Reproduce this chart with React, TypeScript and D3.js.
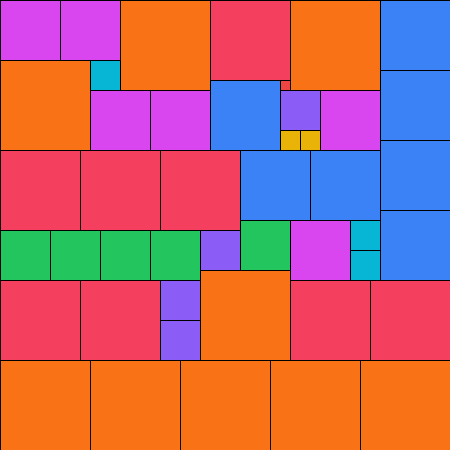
import React from "react";
import * as d3 from "d3";

// Partridge tiling: n squares of side n (n = 1..9) packed into a 45×45 square.
// Each square: side (grid units), column, row (grid units).
const sides = [
  9, 9, 9, 9, 9, 9, 9, 9, 9,
  8, 8, 8, 8, 8, 8, 8, 8,
  7, 7, 7, 7, 7, 7, 7,
  6, 6, 6, 6, 6, 6,
  5, 5, 5, 5, 5,
  4, 4, 4, 4,
  3, 3, 3,
  2, 2,
  1,
];
const cols = [
  12, 29, 0, 20, 0, 9, 18, 27, 36,
  21, 0, 8, 16, 0, 8, 29, 37,
  38, 38, 38, 38, 21, 24, 31,
  0, 6, 9, 15, 32, 29,
  0, 5, 10, 15, 24,
  28, 20, 16, 16,
  9, 35, 35,
  28, 30,
  28,
];
const rows = [
  0, 0, 6, 27, 36, 36, 36, 36, 36,
  0, 15, 15, 15, 28, 28, 28, 28,
  0, 7, 14, 21, 8, 15, 15,
  0, 0, 9, 9, 9, 22,
  23, 23, 23, 23, 22,
  9, 23, 28, 32,
  6, 22, 25,
  13, 13,
  8,
];
const sideKeys = [9, 8, 7, 6, 5, 4, 3, 2, 1];
const palette = ["#f97316", "#f43f5e", "#3b82f6", "#d946ef", "#22c55e", "#8b5cf6", "#06b6d4", "#eab308", "#ef4444"];

const W = 450;
const H = 450;

export default function App() {
  const x = d3.scaleLinear().domain([0, 45]).range([0, W]);
  const y = d3.scaleLinear().domain([0, 45]).range([0, H]);
  const color = d3.scaleOrdinal<number, string>().domain(sideKeys).range(palette);
  const data = sides.map((s, i) => ({ s, c: cols[i], r: rows[i] }));
  return (
    <svg
      width={W}
      height={H}
      style={{ position: "absolute", left: 0, top: 0, display: "block" }}
    >
      {data.map((d, i) => (
        <rect
          key={i}
          x={x(d.c) + 0.5}
          y={y(d.r) + 0.5}
          width={x(d.c + d.s) - x(d.c)}
          height={y(d.r + d.s) - y(d.r)}
          fill={color(d.s)}
          stroke="#000"
          strokeWidth={1}
        />
      ))}
    </svg>
  );
}
